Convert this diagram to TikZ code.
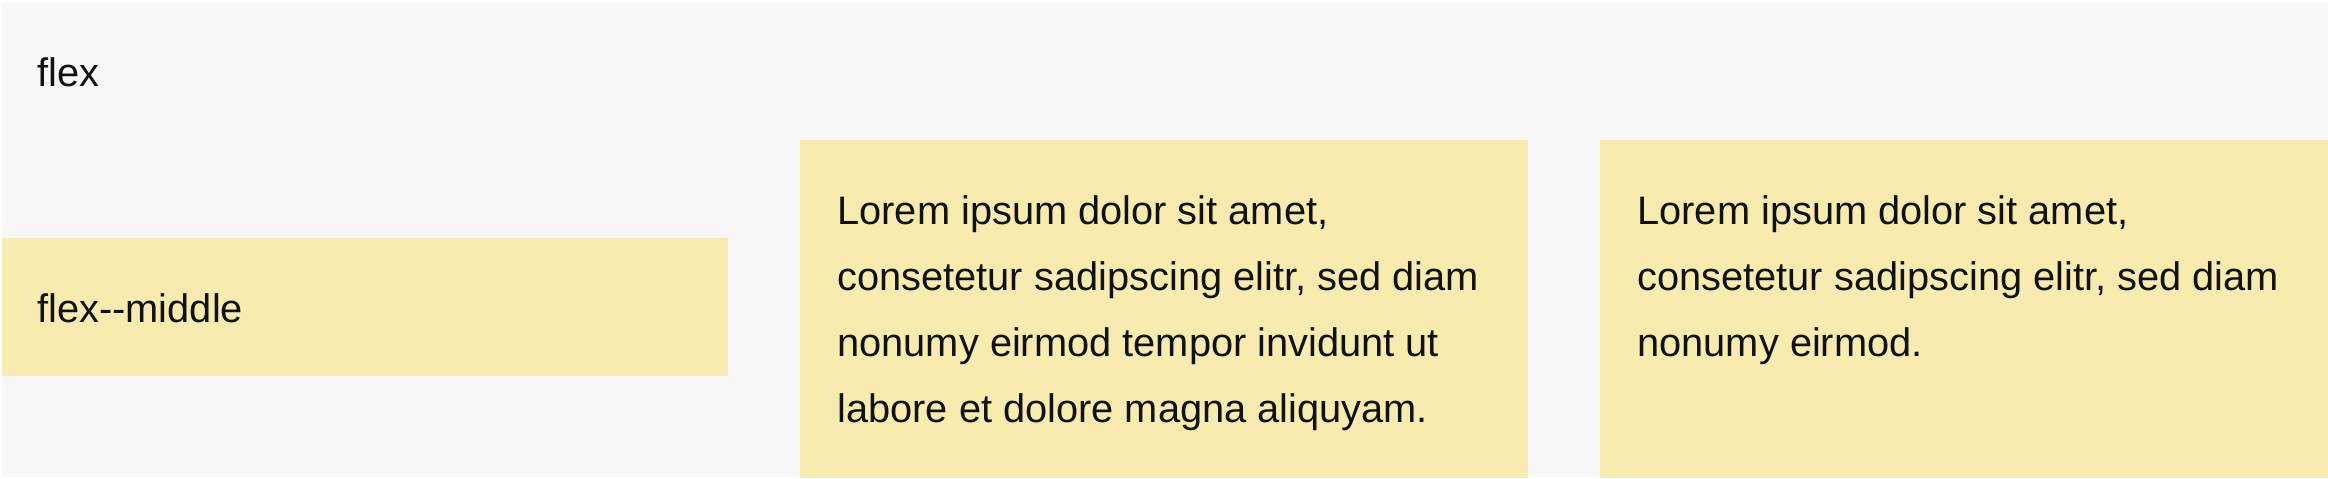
\documentclass[tikz,border=0pt]{standalone}
\usepackage{fontspec}
\setmainfont{Liberation Sans}
\definecolor{bggray}{HTML}{F7F7F7}
\definecolor{boxyellow}{HTML}{F8EBB0}
\definecolor{ink}{HTML}{111111}
\tikzset{
  item/.style={fill=boxyellow, draw=none},
  txt/.style={anchor=base west, inner sep=0pt, text=ink,
    font=\fontsize{19.9}{33}\selectfont},
}
\begin{document}
\begin{tikzpicture}[x=0.5pt, y=-0.5pt]
\useasboundingbox (0,0) rectangle (2328,478);
\fill[white] (0,0) rectangle (2328,478);
\fill[bggray] (2,2) rectangle (2328,477);
\fill[item] (2,238) rectangle (728,376);
\fill[item] (800,140) rectangle (1528,478);
\fill[item] (1600,140) rectangle (2328,478);
\node[txt] (title) at (37,86) {flex};
\node[txt] (mid) at (37,322) {flex-{}-middle};
\node[txt] (b2l1) at (837,224) {Lorem ipsum dolor sit amet,};
\node[txt] (b2l2) at (837,290) {consetetur sadipscing elitr, sed diam};
\node[txt] (b2l3) at (837,356) {nonumy eirmod tempor invidunt ut};
\node[txt] (b2l4) at (837,422) {labore et dolore magna aliquyam.};
\node[txt] (b3l1) at (1637,224) {Lorem ipsum dolor sit amet,};
\node[txt] (b3l2) at (1637,290) {consetetur sadipscing elitr, sed diam};
\node[txt] (b3l3) at (1637,356) {nonumy eirmod.};
\end{tikzpicture}
\end{document}
